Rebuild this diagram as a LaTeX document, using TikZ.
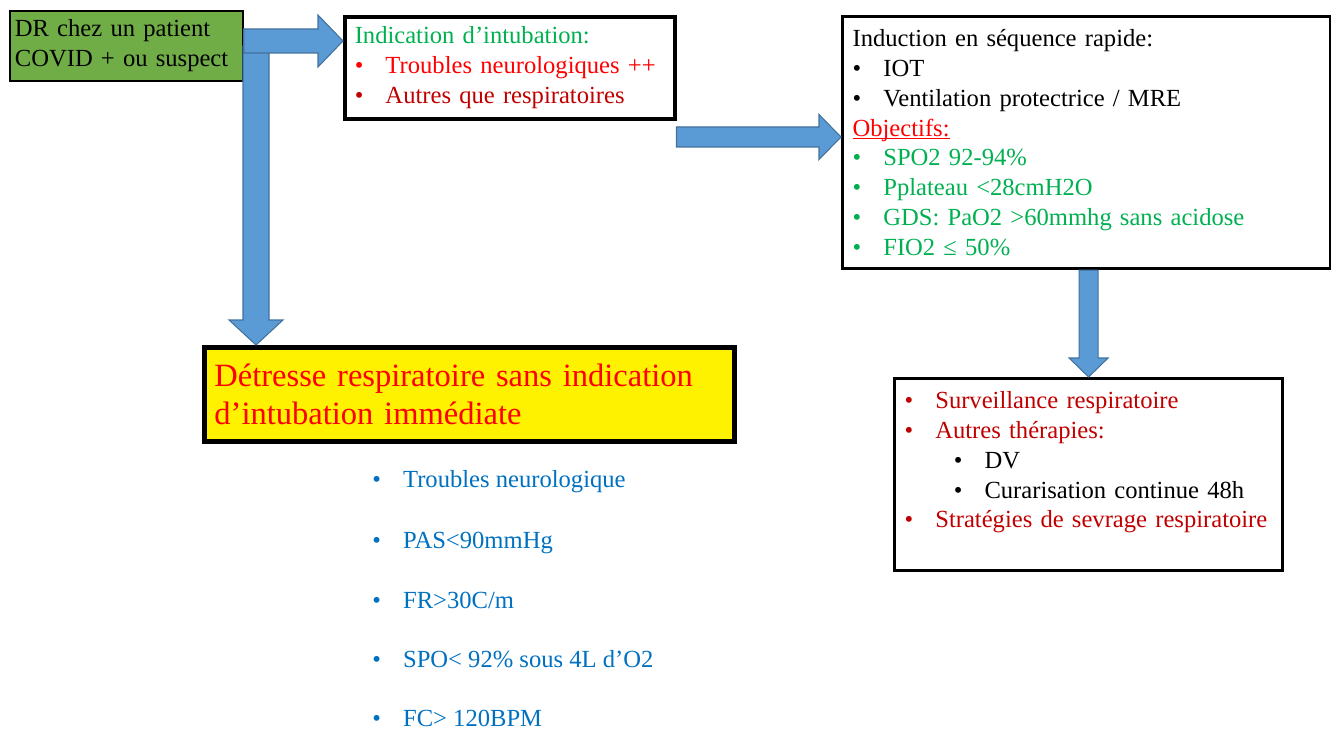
\documentclass[tikz,border=0pt]{standalone}
\usepackage{fontspec}
\setmainfont{Liberation Serif}
\usetikzlibrary{calc,positioning}

\definecolor{drgreen}{HTML}{70AD47}
\definecolor{txtgreen}{HTML}{00B050}
\definecolor{txtred}{HTML}{FF0000}
\definecolor{darkred}{HTML}{C00000}
\definecolor{txtblue}{HTML}{0070C0}
\definecolor{arrowfill}{HTML}{5B9BD5}
\definecolor{arrowline}{HTML}{41719C}

% bullet line: colour, text
\newcommand\itm[2]{\textcolor{#1}{\makebox[17.5pt][l]{\textbullet}#2}}
% underline close to the baseline
\newcommand\undl[1]{\setbox0\hbox{#1}\rlap{\rule[-1.6pt]{\wd0}{0.6pt}}#1}

% block arrows: tail, tip, body half width, head half width, head length
\newcommand\rblock[5]{%
  \filldraw[blockarrow] let \p1=(#1), \p2=(#2) in
    (\x1,\y2+#3) -- (\x2-#5,\y2+#3) -- (\x2-#5,\y2+#4) -- (\x2,\y2)
    -- (\x2-#5,\y2-#4) -- (\x2-#5,\y2-#3) -- (\x1,\y2-#3) -- cycle;}
\newcommand\dblock[5]{%
  \filldraw[blockarrow] let \p1=(#1), \p2=(#2) in
    (\x2-#3,\y1) -- (\x2-#3,\y2+#5) -- (\x2-#4,\y2+#5) -- (\x2,\y2)
    -- (\x2+#4,\y2+#5) -- (\x2+#3,\y2+#5) -- (\x2+#3,\y1) -- cycle;}

\begin{document}
\begin{tikzpicture}[font=\fontsize{14}{17}\selectfont,
  blockarrow/.style={fill=arrowfill, draw=arrowline, line width=0.6pt},
  box/.style={draw, line width=1.8pt, anchor=north west, align=left,
    inner xsep=0.2cm, inner ysep=0pt},
  sign/.style={anchor=base west, inner sep=0pt, text=txtblue}]

  \useasboundingbox (0,0) rectangle (26.62,-14.9);

  % Start box
  \node[box, fill=drgreen, line width=1pt, inner xsep=0.1cm,
    text width=4.46cm, minimum height=1.4cm] (dr) at (0.18,-0.2)
    {DR chez un patient\\COVID + ou suspect};

  % Intubation criteria
  \node[box, line width=2pt, text width=6.2cm, minimum height=2.04cm] (ind) at (6.86,-0.3)
    {\textcolor{txtgreen}{Indication d’intubation:}\\
     \itm{txtred}{Troubles neurologiques ++}\\
     \itm{darkred}{Autres que respiratoires}};

  % Rapid sequence induction
  \node[box, text width=9.36cm, minimum height=5.04cm] (isr) at (16.82,-0.3)
    {Induction en séquence rapide:\\
     \itm{black}{IOT}\\
     \itm{black}{Ventilation protectrice / MRE}\\
     \textcolor{txtred}{\undl{Objectifs:}}\\
     \itm{txtgreen}{SPO2 92-94\%}\\
     \itm{txtgreen}{Pplateau <28cmH2O}\\
     \itm{txtgreen}{GDS: PaO2 >60mmhg sans acidose}\\
     \itm{txtgreen}{FIO2 ≤ 50\%}};

  % Follow-up
  \node[box, text width=7.36cm, minimum height=3.84cm] (surv) at (17.86,-7.54)
    {\itm{darkred}{Surveillance respiratoire}\\
     \itm{darkred}{Autres thérapies:}\\
     \hspace*{28pt}\itm{black}{DV}\\
     \hspace*{28pt}\itm{black}{Curarisation continue 48h}\\
     \itm{darkred}{Stratégies de sevrage respiratoire}\\
     \mbox{}};

  % Distress without immediate intubation
  \node[box, fill=yellow, line width=2.8pt, text width=10.2cm, minimum height=1.88cm,
    text=txtred, font=\fontsize{18.5}{21.5}\selectfont] (det) at (4.04,-6.9)
    {Détresse respiratoire sans indication\\d’intubation immédiate};

  % Signs
  \node[sign] (s1) at (7.44,-9.74) {\itm{txtblue}{Troubles neurologique}};
  \node[sign] (s2) at (7.44,-10.96) {\itm{txtblue}{PAS<90mmHg}};
  \node[sign] (s3) at (7.44,-12.16) {\itm{txtblue}{FR>30C/m}};
  \node[sign] (s4) at (7.44,-13.34) {\itm{txtblue}{SPO< 92\% sous 4L d’O2}};
  \node[sign] (s5) at (7.44,-14.52) {\itm{txtblue}{FC> 120BPM}};

  % Arrow tips
  \coordinate (htip) at ($(ind.north west)+(0,-0.52)$);
  \coordinate (vtip) at ($(det.north west)+(1.08,0)$);
  \coordinate (otip) at ($(isr.north west)+(0,-2.44)$);

  % Block arrows
  \dblock{dr.east}{vtip}{0.26cm}{0.54cm}{0.5cm}
  \rblock{dr.east}{htip}{0.24cm}{0.52cm}{0.5cm}
  \rblock{ind.east}{otip}{0.2cm}{0.45cm}{0.44cm}
  \dblock{isr.south}{surv.north}{0.19cm}{0.39cm}{0.38cm}

\end{tikzpicture}
\end{document}
